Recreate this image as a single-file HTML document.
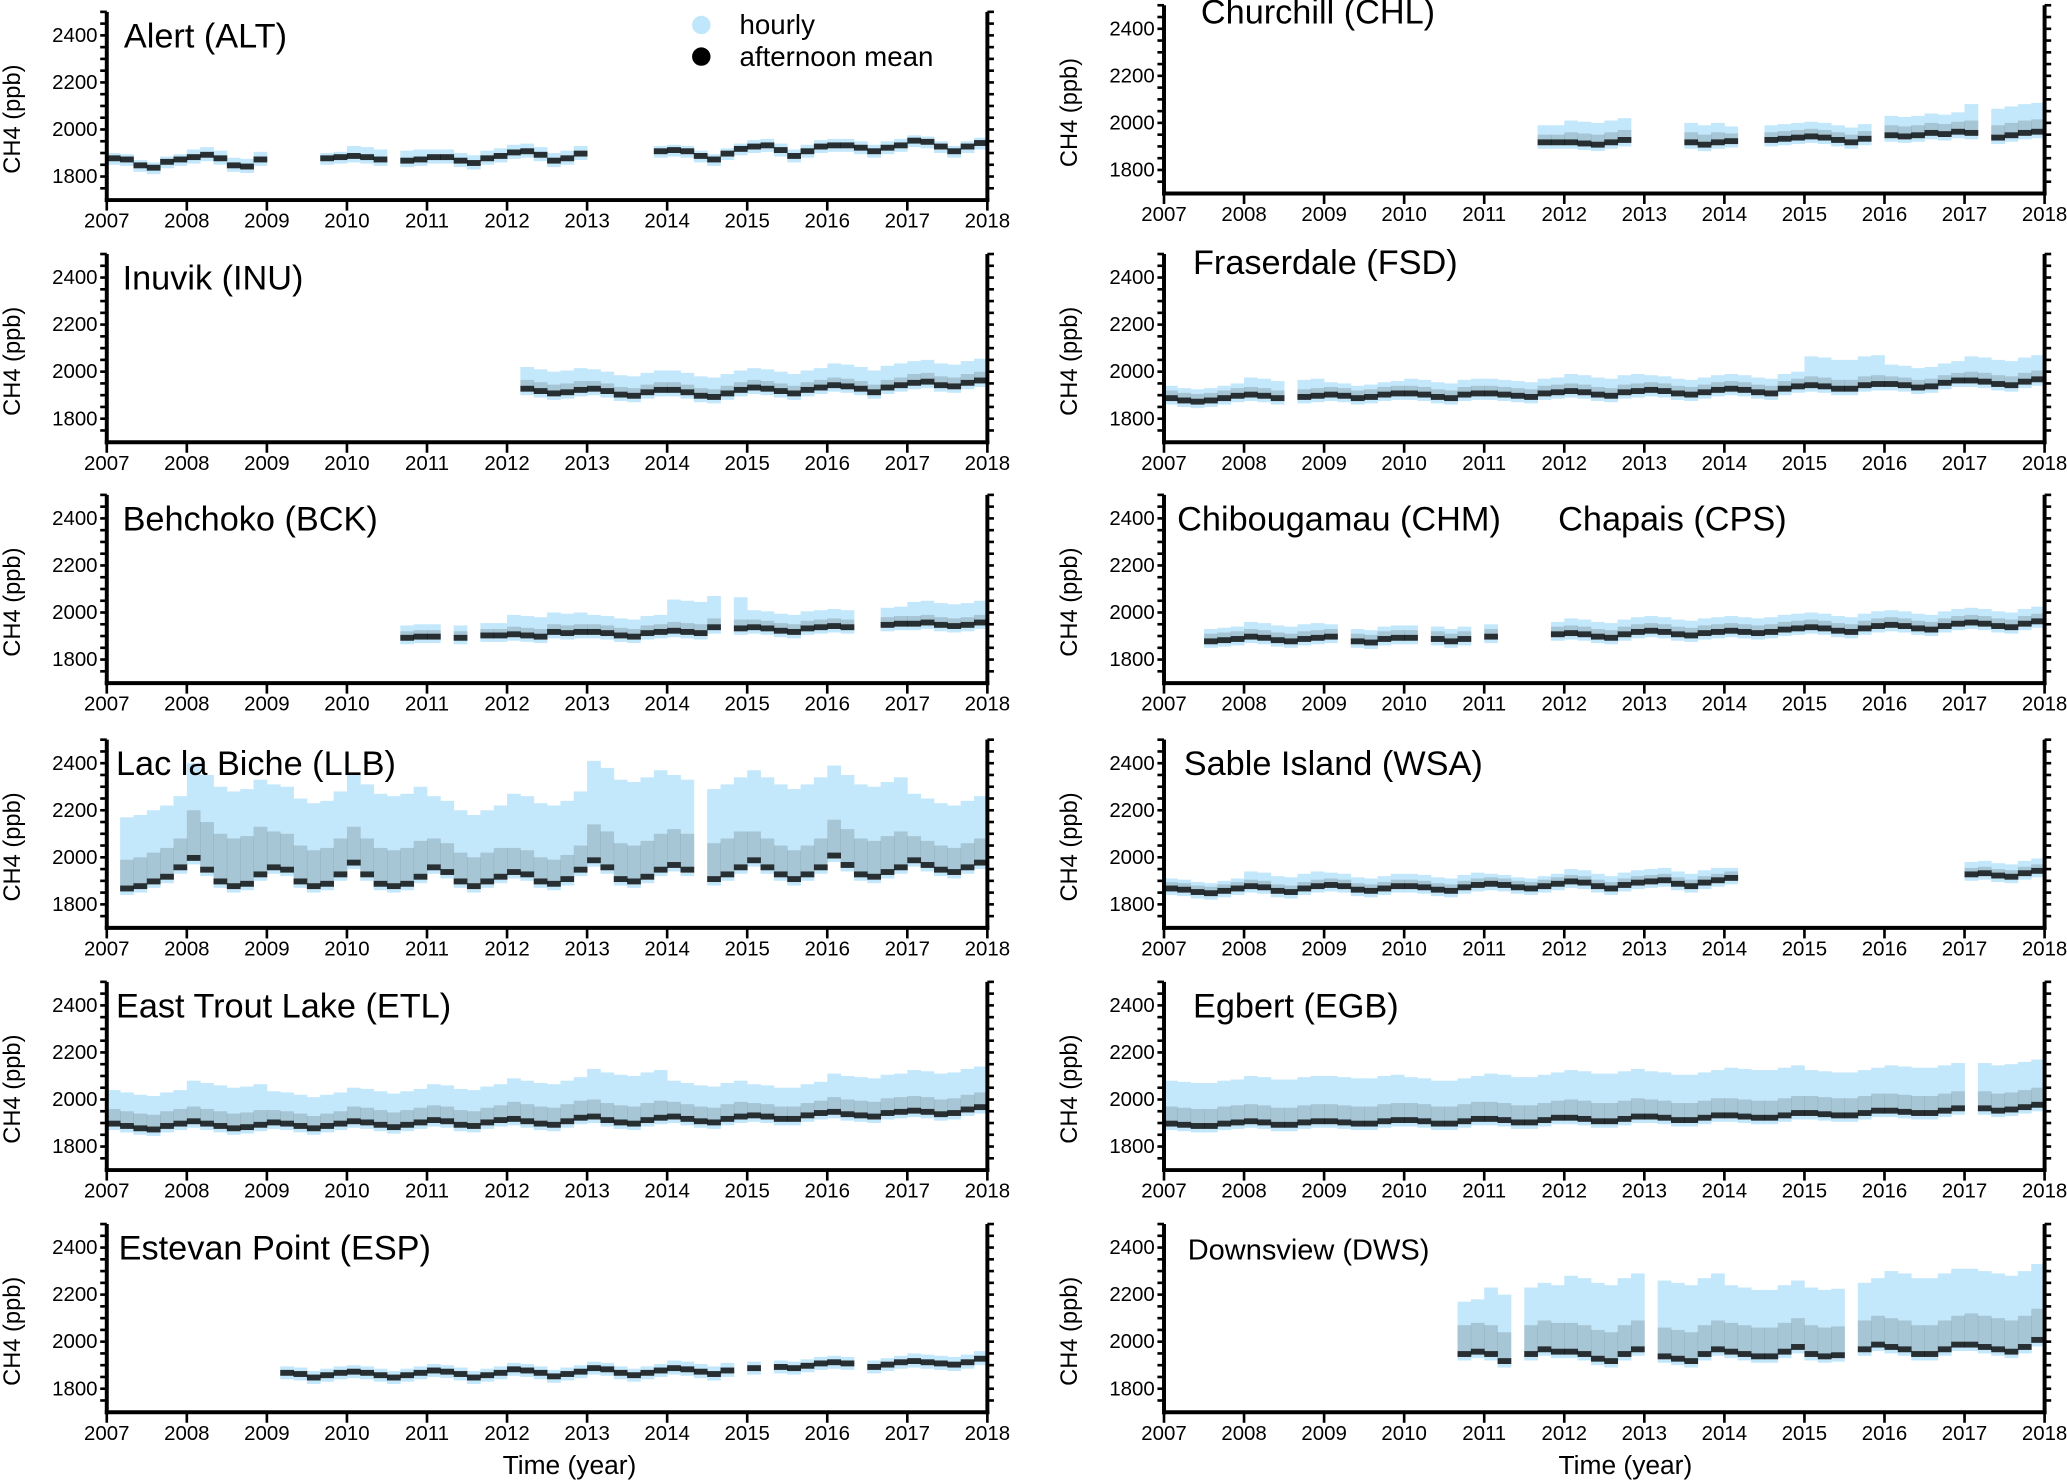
<!DOCTYPE html>
<html><head><meta charset="utf-8"><style>
html,body{margin:0;padding:0;background:#fff;}
svg{display:block;font-family:"Liberation Sans",Arial,sans-serif;}
</style></head><body>
<svg id="chart" xmlns="http://www.w3.org/2000/svg" width="2067" height="1482" viewBox="0 0 1568 1126" preserveAspectRatio="none">
<rect x="0" y="0" width="1568" height="1126" fill="#fff"/>
<g id="legend">
 <circle cx="532" cy="19" r="7" fill="#bfe6fa"/>
 <text x="561" y="26" font-size="21">hourly</text>
 <circle cx="532" cy="43" r="7" fill="#000"/>
 <text x="561" y="50" font-size="21">afternoon mean</text>
</g>
<text x="432" y="1120" font-size="20" text-anchor="middle">Time (year)</text>
<text x="1233" y="1120" font-size="20" text-anchor="middle">Time (year)</text>
</svg>
<script>
const _ = null;
const years = [2007,2008,2009,2010,2011,2012,2013,2014,2015,2016,2017,2018];
const yTicks = [1800,2000,2200,2400];
// 2-month bin means (6 per year, 2007-2017)
const altMean = [1880,1875,1850,1840,1865,1875, 1885,1895,1880,1850,1845,1875, _,_,_,_,1880,1885, 1890,1885,1875,_,1870,1875, 1885,1885,1870,1860,1880,1890, 1905,1910,1895,1870,1880,1900, _,_,_,_,_,1910, 1915,1910,1890,1875,1900,1920, 1930,1935,1915,1890,1910,1930, 1935,1935,1925,1910,1925,1935, 1955,1950,1930,1910,1930,1945];
const altBlue = [20,30,20,40,30,30,20,20,25,25,20];
const altBlack = [10,10,10,10,10,10,10,10,10,10,10];
const chlMean = [_,_,_,_,_,_, _,_,_,_,_,_, _,_,_,_,_,_, _,_,_,_,_,_, _,_,_,_,1920,1920, 1920,1915,1910,1920,1930,_, _,_,_,1920,1910,1920, 1925,_,_,1930,1935,1940, 1945,1940,1930,1920,1935,_, 1950,1945,1950,1960,1955,1965, 1960,_,1940,1950,1960,1965];
const chlBlue = [0,0,0,0,70,90,80,60,60,80,120];
const chlBlack = [0,0,0,0,30,40,40,30,30,40,50];
const inuMean = [_,_,_,_,_,_, _,_,_,_,_,_, _,_,_,_,_,_, _,_,_,_,_,_, _,_,_,_,_,_, _,1930,1920,1910,1915,1925, 1930,1920,1905,1900,1915,1925, 1925,1915,1900,1895,1910,1925, 1935,1930,1920,1910,1925,1935, 1945,1940,1930,1915,1935,1945, 1955,1960,1945,1940,1955,1965];
const inuBlue = [0,0,0,0,0,90,80,80,80,90,90];
const inuBlack = [0,0,0,0,0,35,30,30,30,30,35];
const fsdMean = [1890,1880,1875,1880,1890,1900, 1905,1900,1890,_,1895,1900, 1905,1900,1890,1895,1905,1910, 1910,1905,1895,1890,1905,1910, 1910,1905,1900,1895,1910,1915, 1920,1915,1905,1900,1915,1920, 1925,1920,1910,1905,1915,1925, 1930,1925,1915,1910,1930,1940, 1945,1940,1930,1930,1945,1950, 1950,1945,1935,1940,1955,1965, 1965,1960,1950,1945,1960,1970];
const fsdBlue = [50,70,50,60,60,70,60,60,120,80,100];
const fsdBlack = [30,30,30,30,30,30,30,30,35,30,35];
const bckMean = [_,_,_,_,_,_, _,_,_,_,_,_, _,_,_,_,_,_, _,_,_,_,1895,1900, 1900,_,1895,_,1905,1905, 1910,1905,1900,1920,1915,1920, 1920,1915,1905,1900,1915,1920, 1925,1920,1915,1940,_,1935, 1940,1935,1925,1920,1935,1940, 1945,1940,_,_,1950,1955, 1955,1960,1950,1945,1950,1960];
const bckBlue = [0,0,0,50,50,80,70,130,70,70,90];
const bckBlack = [0,0,0,25,25,30,30,35,30,30,30];
const chmMean = [_,_,_,1880,1885,1890, 1900,1895,1885,1880,1890,1895, 1900,_,1880,1875,1890,1895, 1895,_,1890,1880,1890,_, 1900,_,_,_,_,1910, 1915,1910,1900,1895,1910,1920, 1925,1920,1910,1905,1915,1920, 1925,1920,1915,1920,1930,1935, 1940,1935,1925,1920,1935,1945, 1950,1945,1935,1930,1945,1955, 1960,1955,1945,1940,1955,1965];
const chmBlue = [50,60,50,50,50,60,60,60,60,60,60];
const chmBlack = [30,30,30,30,30,30,30,30,30,30,30];
const llbMean = [_,1870,1880,1900,1920,1960, 2000,1950,1900,1880,1890,1930, 1960,1950,1900,1880,1890,1930, 1980,1930,1890,1880,1890,1920, 1960,1940,1900,1880,1900,1920, 1940,1930,1900,1890,1910,1950, 1990,1960,1910,1900,1920,1950, 1970,1950,_,1910,1930,1960, 1990,1960,1930,1910,1930,1960, 2010,1970,1930,1920,1940,1960, 1990,1970,1950,1940,1960,1980];
const llbBlue = [300,400,350,380,300,330,420,380,380,380,280];
const llbBlack = [120,200,150,150,120,100,150,150,120,150,100];
const wsaMean = [1870,1865,1855,1850,1860,1870, 1880,1875,1860,1855,1870,1880, 1885,1880,1865,1860,1870,1880, 1880,1875,1865,1860,1875,1885, 1890,1885,1875,1870,1880,1890, 1900,1895,1880,1870,1885,1895, 1900,1905,1890,1880,1895,1905, 1915,_,_,_,_,_, _,_,_,_,_,_, _,_,_,_,_,_, 1930,1935,1925,1920,1935,1945];
const wsaBlue = [40,60,50,50,40,50,50,40,0,0,50];
const wsaBlack = [25,25,25,25,25,25,25,25,0,0,25];
const etlMean = [1900,1890,1880,1875,1890,1900, 1910,1900,1890,1880,1885,1895, 1905,1900,1890,1880,1890,1900, 1910,1905,1895,1885,1895,1905, 1915,1910,1895,1890,1905,1915, 1920,1910,1900,1895,1910,1925, 1930,1915,1905,1900,1915,1925, 1930,1920,1910,1905,1920,1930, 1935,1930,1920,1920,1935,1945, 1950,1940,1935,1930,1945,1950, 1955,1950,1940,1945,1960,1970];
const etlBlue = [140,170,130,140,150,170,200,150,130,160,170];
const etlBlack = [60,60,50,60,60,70,70,60,50,60,60];
const egbMean = [1900,1895,1890,1890,1900,1905, 1910,1905,1895,1895,1905,1910, 1910,1905,1900,1900,1910,1915, 1915,1910,1900,1900,1910,1920, 1920,1915,1905,1905,1915,1925, 1925,1920,1910,1910,1920,1930, 1930,1925,1915,1915,1925,1935, 1935,1930,1925,1925,1935,1945, 1945,1940,1935,1935,1945,1955, 1955,1950,1945,1945,1955,1965, _,1965,1955,1960,1970,1980];
const egbBlue = [180,190,190,180,190,200,190,200,180,190,190];
const egbBlack = [70,70,70,70,70,75,70,70,70,70,70];
const espMean = [_,_,_,_,_,_, _,_,_,_,_,_, _,1870,1865,1850,1860,1870, 1875,1870,1860,1850,1860,1870, 1880,1875,1865,1850,1860,1870, 1885,1880,1870,1855,1865,1875, 1890,1885,1870,1860,1870,1880, 1890,1885,1875,1865,1880,_, 1890,_,1895,1890,1900,1910, 1915,1910,_,1895,1905,1915, 1920,1915,1910,1905,1915,1930];
const espBlue = [0,0,25,25,25,25,25,30,25,25,30];
const espBlack = [0,0,12,12,12,12,12,12,12,12,12];
const dwsMean = [_,_,_,_,_,_, _,_,_,_,_,_, _,_,_,_,_,_, _,_,_,_,1950,1960, 1950,1920,_,1950,1970,1960, 1960,1950,1930,1920,1950,1970, _,1940,1930,1920,1950,1970, 1960,1950,1940,1940,1960,1980, 1950,1940,1945,_,1970,1990, 1980,1970,1950,1950,1970,1990, 1990,1980,1970,1960,1980,2010];
const dwsBlue = [0,0,0,220,280,320,320,280,280,320,320];
const dwsBlack = [0,0,0,120,120,120,120,120,120,120,130];

const panels = [
 {key:'alt', title:'Alert (ALT)', col:0, row:0, mean:altMean, blue:altBlue, black:altBlack, tx:94, fs:26},
 {key:'chl', title:'Churchill (CHL)', col:1, row:0, mean:chlMean, blue:chlBlue, black:chlBlack, tx:911, fs:26, dy:-5, ty:18},
 {key:'inu', title:'Inuvik (INU)', col:0, row:1, mean:inuMean, blue:inuBlue, black:inuBlack, tx:93, fs:26},
 {key:'fsd', title:'Fraserdale (FSD)', col:1, row:1, mean:fsdMean, blue:fsdBlue, black:fsdBlack, tx:905, fs:26, ty:208},
 {key:'bck', title:'Behchoko (BCK)', col:0, row:2, mean:bckMean, blue:bckBlue, black:bckBlack, tx:93, fs:26},
 {key:'chm', title:'Chibougamau (CHM)', col:1, row:2, mean:chmMean, blue:chmBlue, black:chmBlack, tx:893, fs:26, extra:{t:'Chapais (CPS)', x:1182}},
 {key:'llb', title:'Lac la Biche (LLB)', col:0, row:3, mean:llbMean, blue:llbBlue, black:llbBlack, tx:88, fs:26},
 {key:'wsa', title:'Sable Island (WSA)', col:1, row:3, mean:wsaMean, blue:wsaBlue, black:wsaBlack, tx:898, fs:26},
 {key:'etl', title:'East Trout Lake (ETL)', col:0, row:4, mean:etlMean, blue:etlBlue, black:etlBlack, tx:88, fs:26},
 {key:'egb', title:'Egbert (EGB)', col:1, row:4, mean:egbMean, blue:egbBlue, black:egbBlack, tx:905, fs:26},
 {key:'esp', title:'Estevan Point (ESP)', col:0, row:5, mean:espMean, blue:espBlue, black:espBlack, tx:90, fs:26},
 {key:'dws', title:'Downsview (DWS)', col:1, row:5, mean:dwsMean, blue:dwsBlue, black:dwsBlack, tx:901, fs:22}
];

const NS = 'http://www.w3.org/2000/svg';
const svg = document.getElementById('chart');
const colX = [[81,749],[883,1551]];
const rowBottom = [152,336,519,705,889,1073];
const PH = 143, YMIN = 1700, YMAX = 2500;
function mk(tag, attrs, parent){
  const e = document.createElementNS(NS, tag);
  for (const k in attrs) e.setAttribute(k, attrs[k]);
  parent.appendChild(e);
  return e;
}
panels.forEach((p, pi) => {
  const xL = colX[p.col][0], xR = colX[p.col][1];
  const bottom = rowBottom[p.row] + (p.dy || 0);
  const top = bottom - PH;
  const xs = t => xL + (t - 2007) / 11 * (xR - xL);
  const ys = v => bottom - (v - YMIN) / (YMAX - YMIN) * PH;
  const g = mk('g', {}, svg);
  
  
  const cid = 'clip' + pi;
  const cp = mk('clipPath', {id: cid}, g);
  mk('rect', {x: xL, y: top, width: xR - xL, height: PH}, cp);
  const dg = mk('g', {'clip-path': 'url(#' + cid + ')'}, g);
  
  
  p.mean.forEach((m, i) => {
    if (m === null) return;
    const yr = Math.floor(i / 6);
    const x1 = xs(2007 + i / 6), x2 = xs(2007 + (i + 1) / 6);
    const r = mk('rect', {x: x1, y: ys(m + p.blue[yr]), width: x2 - x1 + 0.3, height: ys(m - 30) - ys(m + p.blue[yr]), fill: '#c4e8fb'}, dg);
    
    
  });
  p.mean.forEach((m, i) => {
    if (m === null) return;
    const yr = Math.floor(i / 6);
    const x1 = xs(2007 + i / 6), x2 = xs(2007 + (i + 1) / 6);
    const up = p.black[yr];
    if (up > 15) {
      const s = mk('rect', {x: x1, y: ys(m + up), width: x2 - x1 + 0.3, height: ys(m + 10) - ys(m + up), fill: '#000', opacity: 0.15}, dg);
      
      
    }
    const r = mk('rect', {x: x1, y: ys(m + 10), width: x2 - x1 + 0.3, height: ys(m - 15) - ys(m + 10), fill: '#000', opacity: 0.8}, dg);
    
    
  });
  const ax = mk('g', {stroke: '#000', fill: 'none'}, g);
  
  
  mk('line', {x1: xL, y1: top, x2: xL, y2: bottom + 1.5, 'stroke-width': 3}, ax);
  mk('line', {x1: xR, y1: top, x2: xR, y2: bottom + 1.5, 'stroke-width': 3}, ax);
  mk('line', {x1: xL - 1.5, y1: bottom, x2: xR + 1.5, y2: bottom, 'stroke-width': 3}, ax);
  for (let v = 1750; v <= 2500; v += 50) {
    const y = ys(v);
    mk('line', {x1: xL - 5, y1: y, x2: xL, y2: y, 'stroke-width': 2}, ax);
    mk('line', {x1: xR, y1: y, x2: xR + 5, y2: y, 'stroke-width': 2}, ax);
  }
  years.forEach(yv => {
    const x = xs(yv);
    mk('line', {x1: x, y1: bottom, x2: x, y2: bottom + 8, 'stroke-width': 2}, ax);
    const t = mk('text', {x: x, y: bottom + 21, 'font-size': 15.5, 'text-anchor': 'middle', fill: '#000', stroke: 'none'}, g);
    t.textContent = yv;
    
    
  });
  yTicks.forEach(v => {
    const t = mk('text', {x: xL - 7, y: ys(v) + 5, 'font-size': 15.5, 'text-anchor': 'end', fill: '#000'}, g);
    t.textContent = v;
    
    
  });
  const yl = mk('text', {x: 0, y: 0, 'font-size': 18, 'text-anchor': 'middle', fill: '#000', transform: 'translate(' + (xL - 66) + ',' + (top + PH / 2 + 10) + ') rotate(-90)'}, g);
  yl.textContent = 'CH4  (ppb)';
  
  
  const tt = mk('text', {x: p.tx, y: p.ty || (top + 27), 'font-size': p.fs, fill: '#000'}, g);
  tt.textContent = p.title;
  
  
  if (p.extra) {
    const e = mk('text', {x: p.extra.x, y: p.ty || (top + 27), 'font-size': p.fs, fill: '#000'}, g);
    e.textContent = p.extra.t;
    
    
  }
});
svg.appendChild(document.querySelector('#legend'));
</script>
</body></html>
